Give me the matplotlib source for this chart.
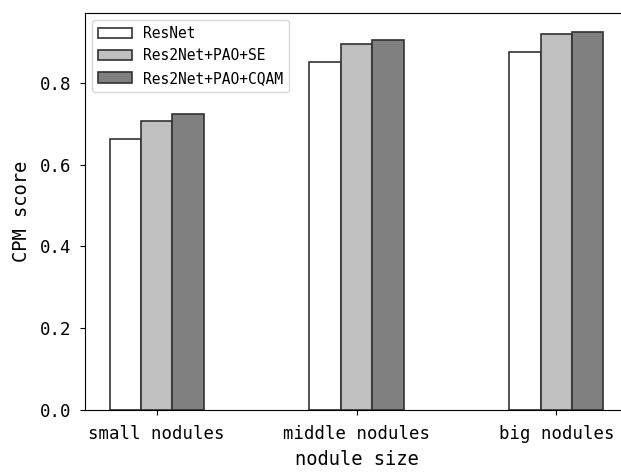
"""
CPM score by nodule size, grouped bars for three models
"""

import matplotlib.pyplot as plt
import numpy as np

# data
categories = ['small nodules', 'middle nodules', 'big nodules']
models = ['ResNet', 'Res2Net+PAO+SE', 'Res2Net+PAO+CQAM']
resnet = [0.663, 0.852, 0.877]
res2net_se = [0.708, 0.896, 0.920]
res2net_cqam = [0.724, 0.904, 0.925]

plt.rcParams['font.family'] = ['DejaVu Sans Mono']

fig = plt.figure(figsize=(6.21, 4.72), dpi=100)
# the right part of the original axes is cut off by the image border
ax = fig.add_axes([85 / 621, 62 / 472, 543 / 621, 397 / 472])

x = np.arange(len(categories))
width = 0.157
colors = ['white', '#c0c0c0', '#808080']

for i, (vals, name) in enumerate(zip([resnet, res2net_se, res2net_cqam], models)):
    ax.bar(x + (i - 1) * width, vals, width, color=colors[i],
           edgecolor='#333333', linewidth=1.2, label=name)

ax.set_xticks(x)
ax.set_xticklabels(categories, fontsize=12.5)
ax.set_yticks([0.0, 0.2, 0.4, 0.6, 0.8])
ax.set_yticklabels(['0.0', '0.2', '0.4', '0.6', '0.8'], fontsize=12.5)
ax.tick_params(axis='x', pad=7)
ax.tick_params(axis='y', pad=6)
ax.set_xlabel('nodule size', fontsize=13.5, labelpad=5)
ax.set_ylabel('CPM score', fontsize=13.5, labelpad=7)

ax.legend(loc='upper left', fontsize=10.5, handlelength=2.3)

plt.savefig('out.png', dpi=100)
